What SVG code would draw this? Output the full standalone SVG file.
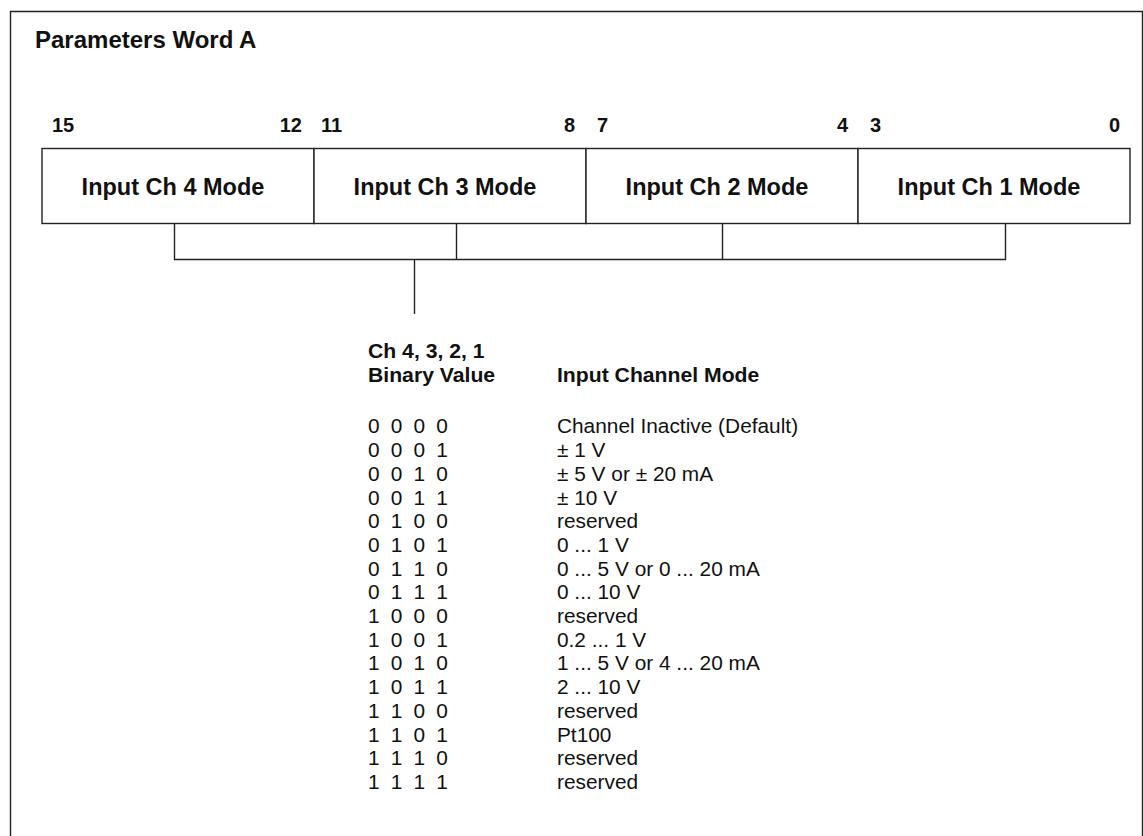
<svg xmlns="http://www.w3.org/2000/svg" width="1143" height="836" viewBox="0 0 1143 836">
<style>
  text { font-family: "Liberation Sans", Arial, sans-serif; fill: #111; }
  .title { font-size: 24px; font-weight: bold; }
  .bit { font-size: 20px; font-weight: bold; }
  .lbl { font-size: 23.5px; font-weight: bold; text-anchor: middle; }
  .hdr { font-size: 19.8px; font-weight: bold; }
  .row { font-size: 19.5px; }
  .bin { font-size: 19.5px; word-spacing: 5px; }
  .box { fill: #fff; stroke: #222; stroke-width: 1.4; }
  .ln { fill: none; stroke: #222; stroke-width: 1.4; }
</style>
<rect width="1143" height="836" fill="#fff"/>
<path class="ln" d="M10.5 840 V11.5 H1142.5 V840"/>
<text class="title" x="35" y="48">Parameters Word A</text>

<g id="bits">
  <text class="bit" x="52" y="132">15</text>
  <text class="bit" x="302" y="132" text-anchor="end">12</text>
  <text class="bit" x="321" y="132">11</text>
  <text class="bit" x="575" y="132" text-anchor="end">8</text>
  <text class="bit" x="597" y="132">7</text>
  <text class="bit" x="848" y="132" text-anchor="end">4</text>
  <text class="bit" x="870" y="132">3</text>
  <text class="bit" x="1120" y="132" text-anchor="end">0</text>
</g>

<g id="ch4"><rect class="box" x="42" y="148.5" width="272" height="75"/><text class="lbl" x="173" y="195">Input Ch 4 Mode</text></g>
<g id="ch3"><rect class="box" x="314" y="148.5" width="272" height="75"/><text class="lbl" x="445" y="195">Input Ch 3 Mode</text></g>
<g id="ch2"><rect class="box" x="586" y="148.5" width="272" height="75"/><text class="lbl" x="717" y="195">Input Ch 2 Mode</text></g>
<g id="ch1"><rect class="box" x="858" y="148.5" width="272" height="75"/><text class="lbl" x="989" y="195">Input Ch 1 Mode</text></g>

<g id="connectors">
  <path class="ln" d="M174.5 223.5 V259.5 H1005.5 V223.5 M456.5 223.5 V259.5 M722.5 223.5 V259.5 M414.5 259.5 V314"/>
</g>

<g id="table" transform="translate(368 0) scale(1.07 1) translate(-368 0)">
  <text class="hdr" x="368" y="358">Ch 4, 3, 2, 1</text>
  <text class="hdr" x="368" y="382">Binary Value</text>
  <text class="hdr" x="544.6" y="382">Input Channel Mode</text>

  <text class="bin" x="368" y="433.5">0 0 0 0</text>
  <text class="bin" x="368" y="457.2">0 0 0 1</text>
  <text class="bin" x="368" y="480.9">0 0 1 0</text>
  <text class="bin" x="368" y="504.6">0 0 1 1</text>
  <text class="bin" x="368" y="528.3">0 1 0 0</text>
  <text class="bin" x="368" y="552">0 1 0 1</text>
  <text class="bin" x="368" y="575.7">0 1 1 0</text>
  <text class="bin" x="368" y="599.4">0 1 1 1</text>
  <text class="bin" x="368" y="623.1">1 0 0 0</text>
  <text class="bin" x="368" y="646.8">1 0 0 1</text>
  <text class="bin" x="368" y="670.5">1 0 1 0</text>
  <text class="bin" x="368" y="694.2">1 0 1 1</text>
  <text class="bin" x="368" y="717.9">1 1 0 0</text>
  <text class="bin" x="368" y="741.6">1 1 0 1</text>
  <text class="bin" x="368" y="765.3">1 1 1 0</text>
  <text class="bin" x="368" y="789">1 1 1 1</text>

  <text class="row" x="544.6" y="433.5">Channel Inactive (Default)</text>
  <text class="row" x="544.6" y="457.2">± 1 V</text>
  <text class="row" x="544.6" y="480.9">± 5 V or ± 20 mA</text>
  <text class="row" x="544.6" y="504.6">± 10 V</text>
  <text class="row" x="544.6" y="528.3">reserved</text>
  <text class="row" x="544.6" y="552">0 ... 1 V</text>
  <text class="row" x="544.6" y="575.7">0 ... 5 V or 0 ... 20 mA</text>
  <text class="row" x="544.6" y="599.4">0 ... 10 V</text>
  <text class="row" x="544.6" y="623.1">reserved</text>
  <text class="row" x="544.6" y="646.8">0.2 ... 1 V</text>
  <text class="row" x="544.6" y="670.5">1 ... 5 V or 4 ... 20 mA</text>
  <text class="row" x="544.6" y="694.2">2 ... 10 V</text>
  <text class="row" x="544.6" y="717.9">reserved</text>
  <text class="row" x="544.6" y="741.6">Pt100</text>
  <text class="row" x="544.6" y="765.3">reserved</text>
  <text class="row" x="544.6" y="789">reserved</text>
</g>
</svg>
